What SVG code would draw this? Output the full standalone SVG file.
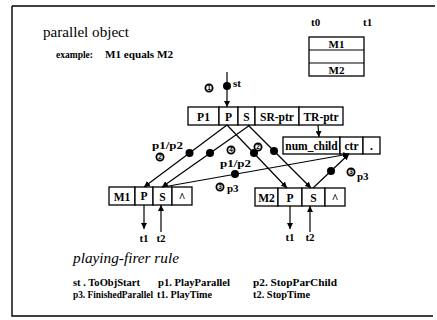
<svg xmlns="http://www.w3.org/2000/svg" width="437" height="320" viewBox="0 0 437 320">
<style>
text{font-family:"Liberation Serif","Times New Roman",serif;fill:#000}
.b{font-weight:bold;font-size:11px}
.bx{font-weight:bold;font-size:11.5px;text-anchor:middle}
.lg{font-weight:bold;font-size:10px}
.m{text-anchor:middle}
.box{fill:#fff;stroke:#000;stroke-width:1.3}
.ln{stroke:#000;stroke-width:1.2;fill:none}
.frame{stroke:#000;stroke-width:1.4;fill:none}
.cc{fill:#fff;stroke:#000;stroke-width:1.8}
.cn{font-family:"Liberation Sans",Arial,sans-serif;font-size:6.5px;font-weight:bold;text-anchor:middle}
</style>
<defs>
<marker id="ah" viewBox="0 0 6 6" refX="6" refY="3" markerWidth="5" markerHeight="5" orient="auto"><path d="M0,0 L6,3 L0,6z"/></marker>
</defs>
<g id="frame">
<path class="frame" d="M12,6 L435,6 M12,6 L12,316 L433,316"/>
</g>
<g id="title">
<text x="43" y="37" font-size="14" textLength="86" lengthAdjust="spacingAndGlyphs">parallel object</text>
<text x="56" y="58" class="b" textLength="37" lengthAdjust="spacingAndGlyphs">example:</text>
<text x="105" y="58" class="b" textLength="68" lengthAdjust="spacingAndGlyphs">M1 equals M2</text>
</g>
<g id="timeline">
<text x="311" y="26" class="b">t0</text>
<text x="363" y="26" class="b">t1</text>
<rect class="box" x="309" y="37" width="55" height="39"/>
<path class="ln" d="M309,50 H364 M309,63 H364"/>
<text x="336.5" y="47.5" class="b m">M1</text>
<text x="336.5" y="73.5" class="b m">M2</text>
</g>
<g id="parent">
<rect class="box" x="188" y="107" width="31" height="18"/>
<rect class="box" x="219" y="107" width="19" height="18"/>
<rect class="box" x="238" y="107" width="17" height="18"/>
<rect class="box" x="255" y="107" width="44" height="18"/>
<rect class="box" x="299" y="107" width="44" height="18"/>
<text x="203.5" y="120.5" class="bx">P1</text>
<text x="228.5" y="120.5" class="bx">P</text>
<text x="246.5" y="120.5" class="bx">S</text>
<text x="277" y="120.5" class="bx">SR-ptr</text>
<text x="321" y="120.5" class="bx">TR-ptr</text>
</g>
<g id="counter">
<rect class="box" x="283" y="137" width="57" height="17"/>
<rect class="box" x="340" y="137" width="23" height="17"/>
<rect class="box" x="363" y="137" width="17" height="17"/>
<text x="311.5" y="149.5" class="bx">num_child</text>
<text x="351.5" y="149.5" class="bx">ctr</text>
<text x="371.5" y="149.5" class="bx">.</text>
</g>
<g id="m1">
<rect class="box" x="109" y="187" width="26" height="18"/>
<rect class="box" x="135" y="187" width="18" height="18"/>
<rect class="box" x="153" y="187" width="19" height="18"/>
<rect class="box" x="172" y="187" width="20" height="18"/>
<text x="122" y="200.5" class="bx">M1</text>
<text x="144" y="200" class="bx" font-size="13">P</text>
<text x="162.5" y="201" class="bx">S</text>
<text x="182" y="200.5" class="bx">^</text>
</g>
<g id="m2">
<rect class="box" x="255" y="188" width="23" height="18"/>
<rect class="box" x="278" y="188" width="24" height="18"/>
<rect class="box" x="302" y="188" width="23" height="18"/>
<rect class="box" x="325" y="188" width="20" height="18"/>
<text x="266.5" y="201.5" class="bx">M2</text>
<text x="290" y="201.5" class="bx">P</text>
<text x="313.5" y="201.5" class="bx">S</text>
<text x="335" y="201.5" class="bx">^</text>
</g>
<g id="connectors">
<path class="ln" d="M227,72 L227,107" marker-end="url(#ah)"/>
<circle cx="227" cy="86" r="4"/>
<path class="ln" d="M318,125 L319,137" marker-end="url(#ah)"/>
<path class="ln" d="M227,125 L144,187" marker-end="url(#ah)"/>
<circle cx="189.5" cy="153" r="4"/>
<path class="ln" d="M250,125 L162,187" marker-end="url(#ah)"/>
<circle cx="210" cy="153" r="4"/>
<path class="ln" d="M227,125 L287,188" marker-end="url(#ah)"/>
<circle cx="254" cy="153" r="4"/>
<path class="ln" d="M248,125 L311,188" marker-end="url(#ah)"/>
<circle cx="274" cy="151" r="4"/>
<path class="ln" d="M163,187 L349,154" marker-end="url(#ah)"/>
<circle cx="235" cy="174" r="4"/>
<path class="ln" d="M313,188 L349,154" marker-end="url(#ah)"/>
<circle cx="331" cy="171" r="4"/>
<path class="ln" d="M144,205 L144,229" marker-end="url(#ah)"/>
<path class="ln" d="M161,232 L161,205" marker-end="url(#ah)"/>
<path class="ln" d="M290,206 L290,229" marker-end="url(#ah)"/>
<path class="ln" d="M310,232 L310,206" marker-end="url(#ah)"/>
</g>
<g id="labels">
<text x="233" y="87" class="b">st</text>
<circle class="cc" cx="209" cy="88" r="3.6"/><text x="209" y="90.3" class="cn">1</text>
<text x="152" y="149" class="b" textLength="31" lengthAdjust="spacingAndGlyphs">p1/p2</text>
<circle class="cc" cx="160" cy="157" r="3.6"/><text x="160" y="159.3" class="cn">2</text>
<circle class="cc" cx="231" cy="150" r="3.6"/><text x="231" y="152.3" class="cn">4</text>
<circle class="cc" cx="258" cy="147" r="3.6"/><text x="258" y="149.3" class="cn">2</text>
<text x="220" y="167" class="b" textLength="31" lengthAdjust="spacingAndGlyphs">p1/p2</text>
<circle class="cc" cx="220" cy="187" r="3.6"/><text x="220" y="189.3" class="cn">3</text>
<text x="227" y="192" class="b">p3</text>
<circle class="cc" cx="351" cy="172" r="3.6"/><text x="351" y="174.3" class="cn">3</text>
<text x="357" y="180" class="b">p3</text>
<text x="144" y="242" class="b m">t1</text>
<text x="161" y="242" class="b m">t2</text>
<text x="290" y="241" class="b m">t1</text>
<text x="310" y="241" class="b m">t2</text>
</g>
<g id="legend">
<text x="73" y="263" font-size="14" font-style="italic" textLength="106" lengthAdjust="spacingAndGlyphs">playing-firer rule</text>
<text x="73" y="286" class="lg" textLength="67" lengthAdjust="spacingAndGlyphs">st . ToObjStart</text>
<text x="158" y="286" class="lg" textLength="72" lengthAdjust="spacingAndGlyphs">p1. PlayParallel</text>
<text x="253" y="286" class="lg" textLength="84" lengthAdjust="spacingAndGlyphs">p2. StopParChild</text>
<text x="73" y="298" class="lg" textLength="80" lengthAdjust="spacingAndGlyphs">p3. FinishedParallel</text>
<text x="157" y="298" class="lg" textLength="55" lengthAdjust="spacingAndGlyphs">t1. PlayTime</text>
<text x="253" y="298" class="lg" textLength="57" lengthAdjust="spacingAndGlyphs">t2.  StopTime</text>
</g>
</svg>
